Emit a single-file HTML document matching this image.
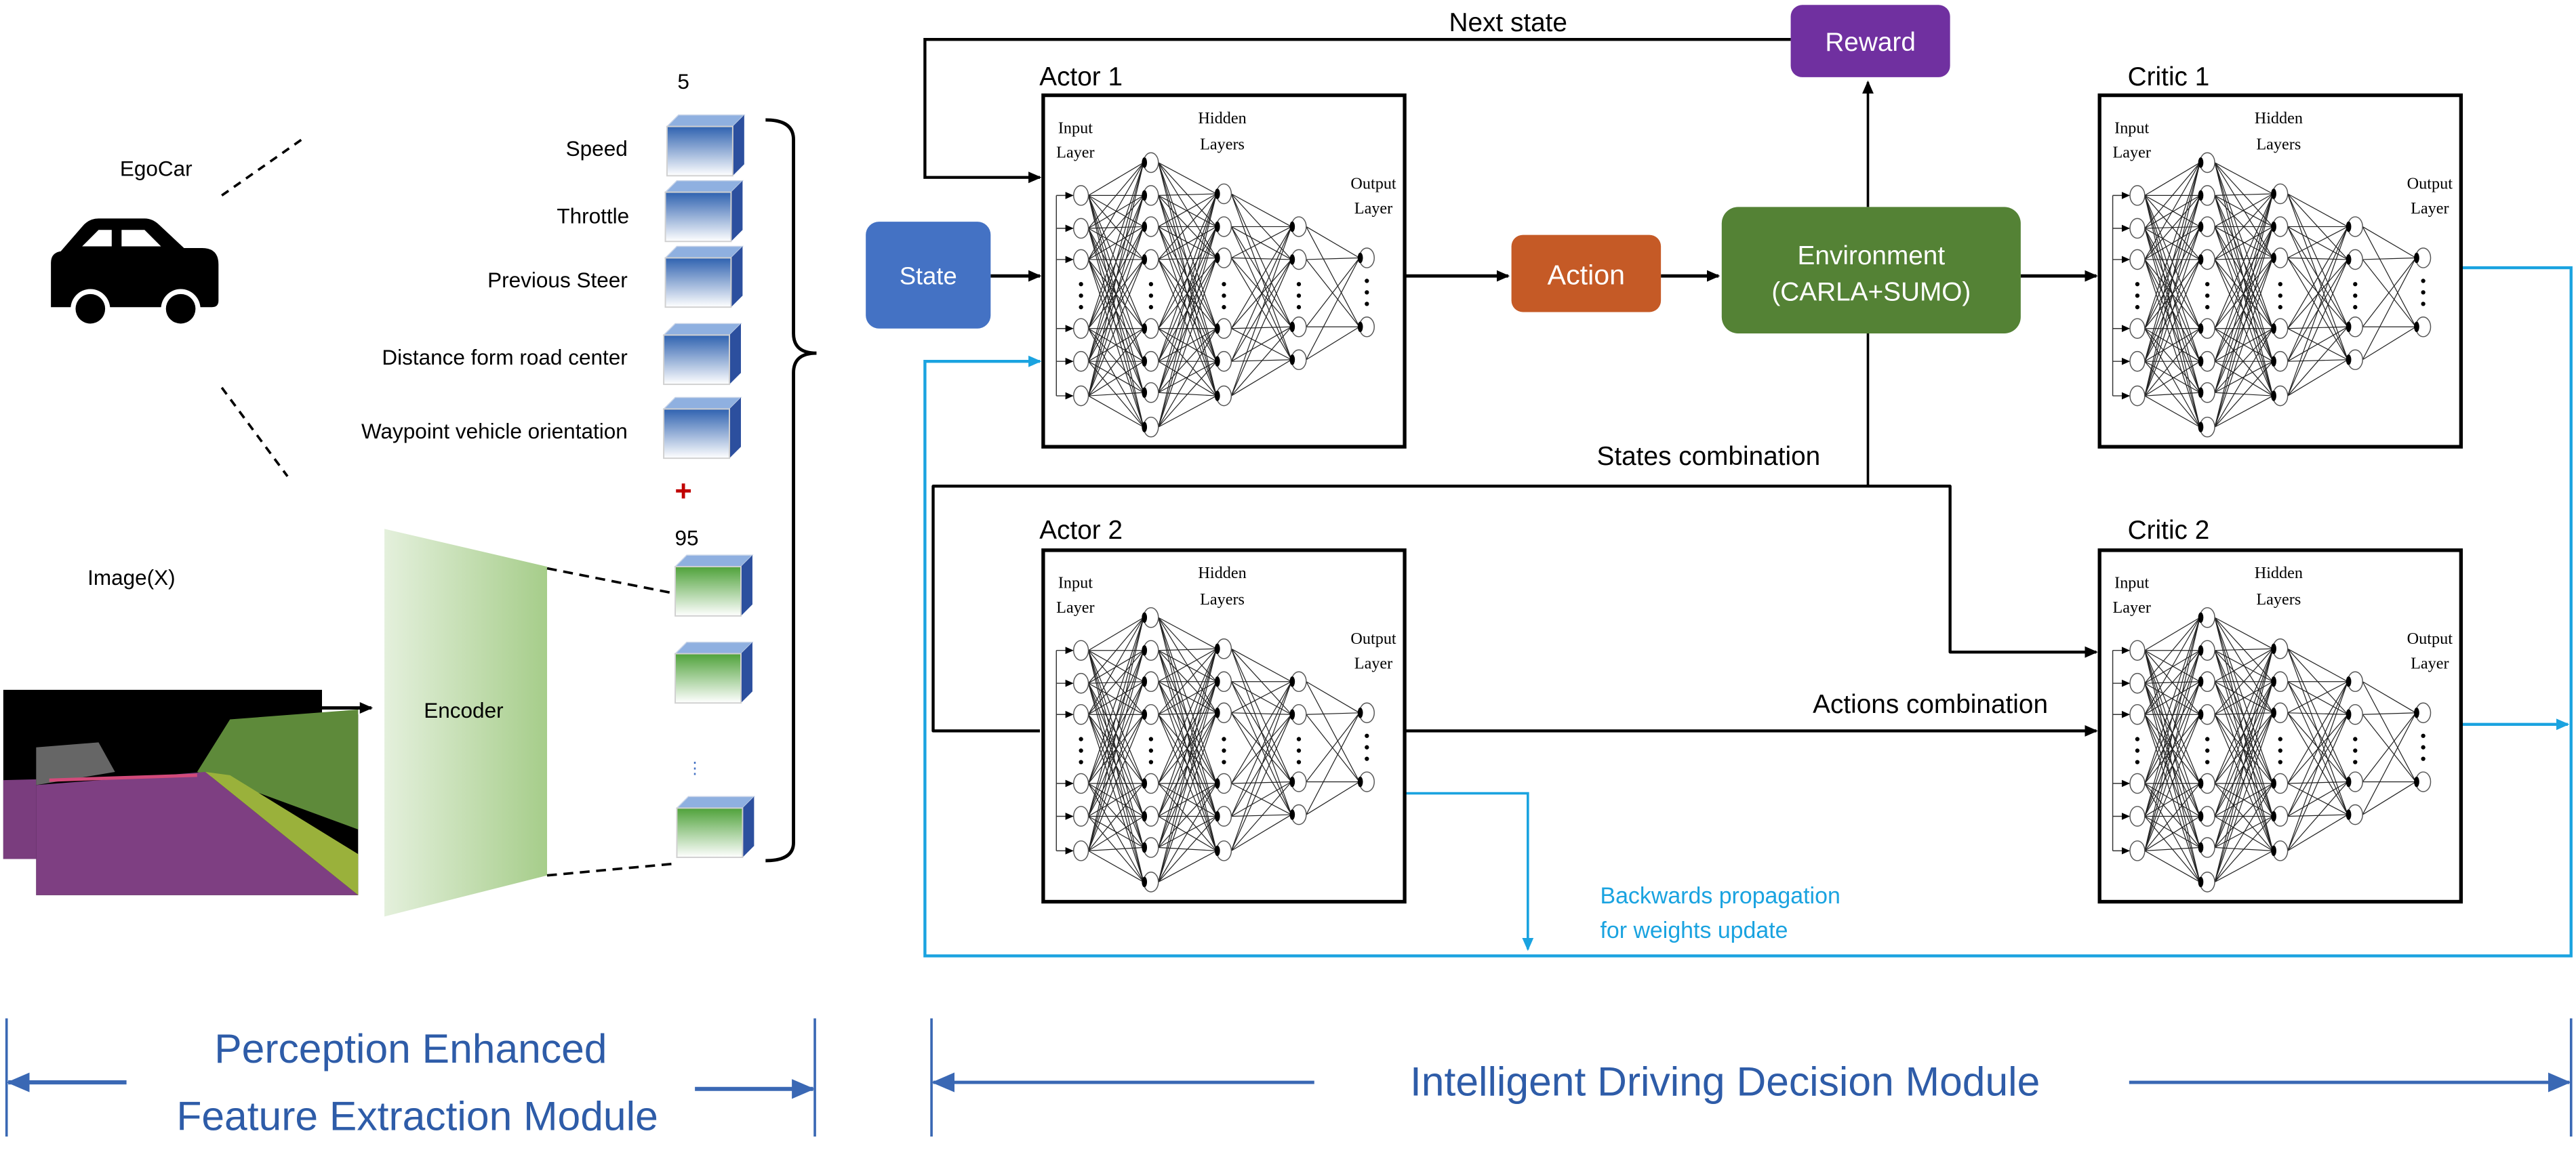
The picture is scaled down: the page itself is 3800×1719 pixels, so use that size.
<!DOCTYPE html>
<html><head><meta charset="utf-8"><style>
html,body{margin:0;padding:0;background:#fff;}
svg{display:block;}
.s{font-family:"Liberation Sans",sans-serif;}
.nn{font-family:"Liberation Serif",serif;font-size:10px;}
</style></head><body>
<svg id="svg" xmlns="http://www.w3.org/2000/svg" width="3800" height="1719" viewBox="0 0 1568 709.3">
<defs>
<marker id="ab" markerWidth="8" markerHeight="8" refX="7" refY="4" orient="auto" markerUnits="userSpaceOnUse"><path d="M0,0.5 L8,4 L0,7.5 Z" fill="#000"/></marker>
<marker id="ac" markerWidth="8" markerHeight="8" refX="7" refY="4" orient="auto" markerUnits="userSpaceOnUse"><path d="M0,0.5 L8,4 L0,7.5 Z" fill="#1aa3e0"/></marker>
<marker id="ad" markerWidth="14" markerHeight="12" refX="13" refY="6" orient="auto" markerUnits="userSpaceOnUse"><path d="M0,0 L14,6 L0,12 Z" fill="#3a68b4"/></marker>
<marker id="as" markerWidth="5" markerHeight="5" refX="4.5" refY="2.5" orient="auto" markerUnits="userSpaceOnUse"><path d="M0,0.3 L5,2.5 L0,4.7 Z" fill="#000"/></marker>
<linearGradient id="gb" x1="0" y1="0" x2="0" y2="1"><stop offset="0" stop-color="#2f62b0"/><stop offset="1" stop-color="#ffffff"/></linearGradient>
<linearGradient id="gg" x1="0" y1="0" x2="0" y2="1"><stop offset="0" stop-color="#4fa23a"/><stop offset="1" stop-color="#ffffff"/></linearGradient>
<linearGradient id="ge" x1="0" y1="0" x2="1" y2="0"><stop offset="0" stop-color="#e4f0dc"/><stop offset="1" stop-color="#a6cd8a"/></linearGradient>
</defs>

<!-- Left module -->
<text x="95" y="107" class="s" font-size="13" text-anchor="middle">EgoCar</text>
<line x1="135" y1="119" x2="185" y2="84" stroke="#000" stroke-width="1.5" stroke-dasharray="5,4"/>
<line x1="135" y1="236" x2="175" y2="290" stroke="#000" stroke-width="1.5" stroke-dasharray="5,4"/>
<!-- car -->
<g fill="#000">
<path d="M31,183 L31,160 Q31,154 37,153 L50,138 Q54,133 60,133 L88,133 Q93,133 97,137 L112,151 L123,151 Q133,151 133,161 L133,183 Q133,187 129,187 L31,187 Z"/>
<path d="M50,150 L60,140 L68,140 L68,150 Z M74,140 L88,140 L98,150 L74,150 Z" fill="#fff"/>
<circle cx="55" cy="188" r="12" fill="#fff"/><circle cx="55" cy="188" r="9"/>
<circle cx="110" cy="188" r="12" fill="#fff"/><circle cx="110" cy="188" r="9"/>
</g>
<g class="s" font-size="13" text-anchor="end">
<text x="382" y="95">Speed</text>
<text x="383" y="136">Throttle</text>
<text x="382" y="175">Previous Steer</text>
<text x="382" y="222">Distance form road center</text>
<text x="382" y="267">Waypoint vehicle orientation</text>
</g>
<text x="416" y="54" class="s" font-size="13" text-anchor="middle">5</text>
<text x="416" y="305" class="s" font-size="18" font-weight="bold" fill="#c00000" text-anchor="middle">+</text>
<text x="418" y="332" class="s" font-size="13" text-anchor="middle">95</text>
<text x="423" y="471" class="s" font-size="10" fill="#4472c4" text-anchor="middle">⋮</text>
<g id="cubes"></g>
<!-- brace -->
<path d="M466,73 Q483,73 483,85 L483,203 Q483,215 497,215 Q483,215 483,227 L483,513 Q483,524 466,524" fill="none" stroke="#000" stroke-width="2"/>
<text x="80" y="356" class="s" font-size="13" text-anchor="middle">Image(X)</text>
<!-- image stack -->
<g>
<rect x="2" y="420" width="194" height="103" fill="#000"/>
<polygon points="2,475 196,470 196,523 2,523" fill="#7a3d7e"/>
<rect x="22" y="435" width="196" height="110" fill="#000"/>
<polygon points="140,438 218,432 218,505 150,480 120,470" fill="#5e8a3a"/>
<polygon points="22,478 125,470 218,545 22,545" fill="#7e3f82"/>
<polygon points="125,470 140,472 218,520 218,545" fill="#9ab13b"/>
<polygon points="22,455 60,452 70,470 22,478" fill="#666"/>
<line x1="30" y1="475" x2="120" y2="472" stroke="#d24a7a" stroke-width="2"/>
</g>
<line x1="196" y1="431" x2="226" y2="431" stroke="#000" stroke-width="2" marker-end="url(#ab)"/>
<polygon points="234,322 333,345 333,533 234,558" fill="url(#ge)"/>
<text x="258" y="437" class="s" font-size="13">Encoder</text>
<line x1="333" y1="346" x2="409" y2="361" stroke="#000" stroke-width="1.5" stroke-dasharray="6,4"/>
<line x1="333" y1="533" x2="409" y2="526" stroke="#000" stroke-width="1.5" stroke-dasharray="6,4"/>

<!-- Right module connectors -->
<polyline points="1090,24 563,24 563,108 633,108" fill="none" stroke="#000" stroke-width="1.8" marker-end="url(#ab)"/>
<text x="918" y="19" class="s" font-size="16" text-anchor="middle">Next state</text>
<line x1="1137" y1="126" x2="1137" y2="50" stroke="#000" stroke-width="1.5" marker-end="url(#ab)"/>
<line x1="603" y1="168" x2="633" y2="168" stroke="#000" stroke-width="2" marker-end="url(#ab)"/>
<line x1="855" y1="168" x2="918" y2="168" stroke="#000" stroke-width="2" marker-end="url(#ab)"/>
<line x1="1011" y1="168" x2="1046" y2="168" stroke="#000" stroke-width="2" marker-end="url(#ab)"/>
<line x1="1230" y1="168" x2="1276" y2="168" stroke="#000" stroke-width="2" marker-end="url(#ab)"/>
<line x1="1137" y1="203" x2="1137" y2="296" stroke="#000" stroke-width="1.5"/>
<text x="1040" y="283" class="s" font-size="16" text-anchor="middle">States combination</text>
<polyline points="633,445 568,445 568,296 1187,296 1187,397 1276,397" fill="none" stroke="#000" stroke-width="1.8" stroke-linejoin="round" marker-end="url(#ab)"/>
<line x1="855" y1="445" x2="1276" y2="445" stroke="#000" stroke-width="1.8" marker-end="url(#ab)"/>
<text x="1175" y="434" class="s" font-size="16" text-anchor="middle">Actions combination</text>
<!-- blue -->
<polyline points="1498,163 1565,163 1565,582 563,582 563,220 633,220" fill="none" stroke="#1aa3e0" stroke-width="1.8" marker-end="url(#ac)"/>
<line x1="1498" y1="441" x2="1563" y2="441" stroke="#1aa3e0" stroke-width="1.8" marker-end="url(#ac)"/>
<polyline points="855,483 930,483 930,578" fill="none" stroke="#1aa3e0" stroke-width="1.5" marker-end="url(#ac)"/>
<text x="974" y="550" class="s" font-size="14" fill="#1aa3e0">Backwards propagation</text>
<text x="974" y="571" class="s" font-size="14" fill="#1aa3e0">for weights update</text>

<!-- boxes -->
<rect x="527" y="135" width="76" height="65" rx="8" fill="#4472c4"/>
<text x="565" y="173" class="s" font-size="15" fill="#fff" text-anchor="middle">State</text>
<rect x="1090" y="3" width="97" height="44" rx="7" fill="#7030a0"/>
<text x="1138.5" y="31" class="s" font-size="16" fill="#fff" text-anchor="middle">Reward</text>
<rect x="920" y="143" width="91" height="47" rx="7" fill="#c55a26"/>
<text x="965.5" y="173" class="s" font-size="17" fill="#fff" text-anchor="middle">Action</text>
<rect x="1048" y="126" width="182" height="77" rx="10" fill="#548235"/>
<text x="1139" y="161" class="s" font-size="16" fill="#fff" text-anchor="middle">Environment</text>
<text x="1139" y="183" class="s" font-size="16" fill="#fff" text-anchor="middle">(CARLA+SUMO)</text>

<text x="658" y="52" class="s" font-size="16" text-anchor="middle">Actor 1</text>
<text x="658" y="328" class="s" font-size="16" text-anchor="middle">Actor 2</text>
<text x="1320" y="52" class="s" font-size="16" text-anchor="middle">Critic 1</text>
<text x="1320" y="328" class="s" font-size="16" text-anchor="middle">Critic 2</text>
<g id="nets"></g>

<!-- bottom -->
<g stroke="#3a68b4" stroke-width="1.5">
<line x1="4" y1="620" x2="4" y2="692"/><line x1="496" y1="620" x2="496" y2="692"/>
<line x1="567" y1="620" x2="567" y2="692"/><line x1="1565" y1="620" x2="1565" y2="692"/>
<line x1="77" y1="659" x2="5" y2="659" stroke-width="2.5" marker-end="url(#ad)"/>
<line x1="423" y1="663" x2="495" y2="663" stroke-width="2.5" marker-end="url(#ad)"/>
<line x1="800" y1="659" x2="568" y2="659" stroke-width="2" marker-end="url(#ad)"/>
<line x1="1296" y1="659" x2="1564" y2="659" stroke-width="2" marker-end="url(#ad)"/>
</g>
<g class="s" fill="#2e5ca8" font-size="25" text-anchor="middle">
<text x="250" y="647">Perception Enhanced</text>
<text x="254" y="688">Feature Extraction Module</text>
<text x="1050" y="667">Intelligent Driving Decision Module</text>
</g>
</svg>
<script>
var NS="http://www.w3.org/2000/svg";
function el(p,t,a){var e=document.createElementNS(NS,t);for(var k in a)e.setAttribute(k,a[k]);p.appendChild(e);return e;}
var cg=document.getElementById("cubes");
function cube(x,y,w,h,g){
 var d=7;
 el(cg,"polygon",{points:(x)+","+(y)+" "+(x+d)+","+(y-d)+" "+(x+w+d)+","+(y-d)+" "+(x+w)+","+y,fill:"#8fb0e0",stroke:"#c8d4e8","stroke-width":0.6});
 el(cg,"polygon",{points:(x+w)+","+y+" "+(x+w+d)+","+(y-d)+" "+(x+w+d)+","+(y+h-d)+" "+(x+w)+","+(y+h),fill:"#2c4f9e"});
 el(cg,"rect",{x:x,y:y,width:w,height:h,fill:"url(#"+g+")",stroke:"#d0d0d0","stroke-width":0.8});
}
[[406,77],[405,117],[405,157],[404,204],[404,249]].forEach(function(c){cube(c[0],c[1],40,30,"gb");});
[[411,345],[411,398],[412,492]].forEach(function(c){cube(c[0],c[1],40,30,"gg");});
var ng=document.getElementById("nets");
function net(bx,by){
 var g=el(ng,"g",{});
 el(g,"rect",{x:bx,y:by,width:220,height:214,fill:"none",stroke:"#000","stroke-width":2.2});
 var L=[
  [23,[61,81,100,142,162,183]],
  [65.6,[41,61,80,100,142,162,181,202]],
  [110,[60,80,99,142,162,183]],
  [155.6,[80,100,141,161]],
  [197,[99,141]]];
 for(var i=0;i<L.length-1;i++){
  var a=L[i],b=L[i+1];
  a[1].forEach(function(ya){b[1].forEach(function(yb){
   el(g,"line",{x1:bx+a[0]+4.5,y1:by+ya,x2:bx+b[0]-4.5,y2:by+yb,stroke:"#222","stroke-width":0.5});
  });});
 }
 L.forEach(function(l,i){
  l[1].forEach(function(y){
   el(g,"ellipse",{cx:bx+l[0],cy:by+y,rx:4.5,ry:6,fill:"#fff",stroke:"#555","stroke-width":0.6});
   if(i>0) el(g,"ellipse",{cx:bx+l[0]-4,cy:by+y,rx:1.6,ry:3.2,fill:"#000"});
  });
  var mid=(i==4)?[113,120,127]:[115,122,129];
  mid.forEach(function(y){el(g,"circle",{cx:bx+l[0],cy:by+y,r:1.3,fill:"#000"});});
 });
 el(g,"line",{x1:bx+8,y1:by+61,x2:bx+8,y2:by+183,stroke:"#333","stroke-width":0.6});
 L[0][1].forEach(function(y){el(g,"line",{x1:bx+8,y1:by+y,x2:bx+18,y2:by+y,stroke:"#333","stroke-width":0.6,"marker-end":"url(#as)"});});
 var t=[["Input",19.6,23],["Layer",19.6,38],["Hidden",109,17],["Layers",109,33],["Output",201,57],["Layer",201,72]];
 t.forEach(function(s){var e=el(g,"text",{x:bx+s[1],y:by+s[2],"text-anchor":"middle","class":"nn"});e.textContent=s[0];});
}
net(635,58);net(635,335);net(1278,58);net(1278,335);
</script>
</body></html>
